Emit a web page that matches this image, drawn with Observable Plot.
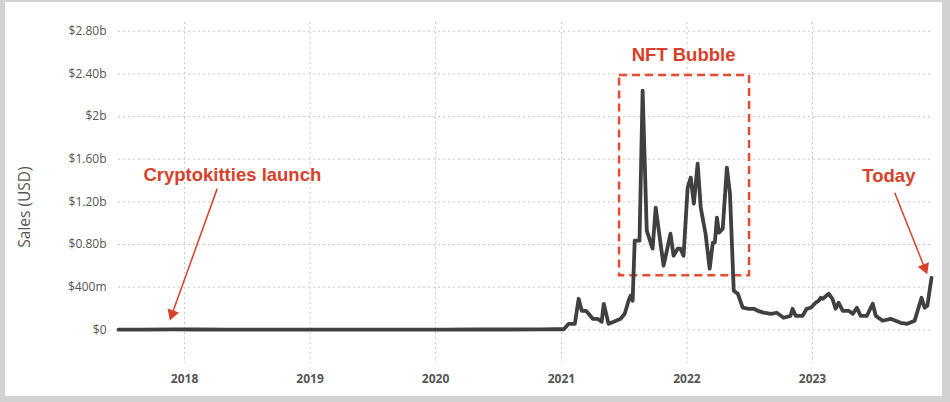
<!DOCTYPE html>
<html>
<head>
<meta charset="utf-8">
<script src="https://cdn.jsdelivr.net/npm/d3@7"></script>
<script src="https://cdn.jsdelivr.net/npm/@observablehq/plot@0.6"></script>
<style>
  html, body { margin: 0; padding: 0; background: #fff; }
  #wrap { position: relative; width: 950px; height: 402px; overflow: hidden; }
  #border { position: absolute; left: 0; top: 0; width: 950px; height: 402px; box-sizing: border-box;
    border-style: solid; border-color: #d2d2d2; border-width: 2px 8px 6px 5px; pointer-events: none; }
</style>
</head>
<body>
<div id="wrap"><div id="border"></div></div>
<script>
// Weekly NFT sales (USD millions)
const dates = [
  "2017-06-23","2017-09-01","2017-12-05","2018-02-01","2018-05-01","2018-08-01","2018-11-01",
  "2019-02-01","2019-05-01","2019-08-01","2019-11-01","2020-02-01","2020-05-01","2020-08-01",
  "2020-11-01","2020-12-15",
  "2021-01-08","2021-01-22","2021-02-09","2021-02-20","2021-03-01","2021-03-13","2021-03-21",
  "2021-04-02","2021-04-16","2021-04-28","2021-05-04","2021-05-18","2021-06-02","2021-06-22",
  "2021-07-04","2021-07-16","2021-07-21","2021-07-27","2021-08-02","2021-08-16","2021-08-25",
  "2021-09-06","2021-09-23","2021-10-02","2021-10-25","2021-11-14","2021-11-23","2021-12-05",
  "2021-12-13","2021-12-22","2022-01-03","2022-01-12","2022-01-21","2022-02-01","2022-02-10",
  "2022-02-24","2022-03-08","2022-03-17","2022-03-23","2022-03-29","2022-04-04","2022-04-15",
  "2022-04-27","2022-05-06","2022-05-17","2022-05-29","2022-06-12","2022-06-30","2022-07-14",
  "2022-07-26","2022-08-12","2022-09-02","2022-09-19","2022-10-09","2022-10-29","2022-11-04",
  "2022-11-13","2022-12-03","2022-12-15","2022-12-27","2023-01-10","2023-01-19","2023-01-25",
  "2023-01-31","2023-02-17","2023-02-28","2023-03-09","2023-03-18","2023-03-30","2023-04-16",
  "2023-04-28","2023-05-10","2023-05-21","2023-06-08","2023-06-25","2023-07-04","2023-07-24",
  "2023-08-16","2023-09-14","2023-10-04","2023-10-25","2023-11-14","2023-11-23","2023-12-01",
  "2023-12-13"
];
const sales = [
  1, 1, 4, 3, 2, 2, 2,
  1, 2, 2, 2, 2, 3, 3,
  4, 5,
  5, 56, 56, 291, 178, 178, 150,
  103, 103, 75, 244, 56, 75, 103,
  150, 282, 319, 272, 836, 836, 2244,
  930, 761, 1146, 601, 901, 695, 761,
  761, 695, 1333, 1427, 1183, 1559, 1146,
  901, 573, 817, 817, 1052, 911, 948,
  1521, 1277, 366, 338, 207, 197, 197,
  178, 160, 150, 160, 113, 131, 197,
  131, 131, 197, 207, 254, 272, 300,
  291, 338, 291, 197, 254, 178, 178,
  150, 207, 131, 131, 244, 131, 85,
  103, 66, 56, 85, 300, 207, 225,
  488
];
const yTicks = [0, 400, 800, 1200, 1600, 2000, 2400, 2800];
const yTickLabels = ["$0", "$400m", "$0.80b", "$1.20b", "$1.60b", "$2b", "$2.40b", "$2.80b"];
const xTicks = ["2018-01-01","2019-01-01","2020-01-01","2021-01-01","2022-01-01","2023-01-01"];

// Annotations
const bubbleBox = [{x1: "2021-06-19", x2: "2022-07-02", y1: 507, y2: 2385}];
const labels = [
  {text: "Cryptokitties launch", date: "2018-05-20", value: 1455},
  {text: "NFT Bubble", date: "2021-12-22", value: 2573},
  {text: "Today", date: "2023-08-11", value: 1446}
];
const arrows = [
  {name: "Cryptokitties", x1: "2018-04-06", y1: 1324, x2: "2017-11-26", y2: 150},
  {name: "Today", x1: "2023-08-28", y1: 1286, x2: "2023-11-23", y2: 582}
];
const arrowHeadAngle = {Cryptokitties: 199.8, Today: 158.2};

const P = d3.utcParse("%Y-%m-%d");
const data = dates.map((d, i) => ({date: P(d), value: sales[i]}));
const box = bubbleBox.map(b => ({x1: P(b.x1), x2: P(b.x2), y1: b.y1, y2: b.y2}));
const lab = labels.map(l => ({...l, date: P(l.date)}));
const arr = arrows.map(a => ({...a, x1: P(a.x1), x2: P(a.x2), angle: arrowHeadAngle[a.name]}));
const tickLabel = new Map(yTicks.map((t, i) => [t, yTickLabels[i]]));

const red = "#d8402a";
const chart = Plot.plot({
  width: 950,
  height: 402,
  marginLeft: 118,
  marginRight: 19,
  marginTop: 22,
  marginBottom: 39,
  style: {fontFamily: "'Open Sans', sans-serif", background: "white"},
  x: {type: "utc", domain: [P("2017-06-23"), P("2023-12-13")]},
  y: {domain: [-316, 2882]},
  marks: [
    Plot.gridY(yTicks, {stroke: "#c8c8c8", strokeOpacity: 1, strokeDasharray: "2,3"}),
    Plot.gridX(xTicks.map(P), {stroke: "#c8c8c8", strokeOpacity: 1, strokeDasharray: "2,3"}),
    Plot.axisY(yTicks, {tickSize: 0, tickPadding: 12, fontSize: 12, fill: "#555",
      tickFormat: d => tickLabel.get(d), label: null}),
    Plot.axisX(xTicks.map(P), {tickSize: 0, tickPadding: 11, fontSize: 12, fontWeight: "bold",
      fill: "#555", tickFormat: d3.utcFormat("%Y"), label: null}),
    Plot.text(["Sales (USD)"], {frameAnchor: "left", textAnchor: "middle", dx: -93, dy: 14,
      rotate: -90, fontSize: 15.5, fill: "#555"}),
    Plot.rect(box, {x1: "x1", x2: "x2", y1: "y1", y2: "y2", fill: "none", stroke: "#ea4a2f",
      strokeWidth: 2.5, strokeDasharray: "8,5"}),
    Plot.line(data, {x: "date", y: "value", stroke: "#404040", strokeWidth: 3.8,
      strokeLinejoin: "round", strokeLinecap: "round"}),
    Plot.link(arr, {x1: "x1", y1: "y1", x2: "x2", y2: "y2", stroke: red, strokeWidth: 1.5}),
    Plot.dot(arr, {x: "x2", y: "y2", symbol: "triangle", r: 4.5, fill: red, stroke: "none",
      rotate: "angle"}),
    Plot.text(lab, {x: "date", y: "value", text: "text", fill: red, fontSize: 18.5,
      fontWeight: "bold", fontFamily: "'Liberation Sans', Arial, sans-serif"})
  ]
});
document.getElementById("wrap").prepend(chart);
</script>
</body>
</html>
